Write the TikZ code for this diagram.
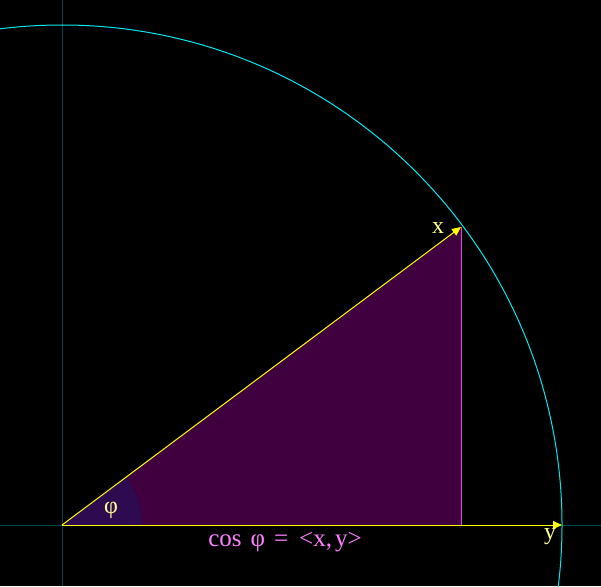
\documentclass[tikz,border=0pt]{standalone}
\usepackage{fontspec}
\setmainfont{Liberation Serif}
\usetikzlibrary{arrows.meta}
\definecolor{axiscol}{HTML}{004848}
\definecolor{circcol}{HTML}{00E8F0}
\definecolor{trifill}{HTML}{400040}
\definecolor{wedgefill}{HTML}{2E0A50}
\definecolor{vertcol}{HTML}{E040E0}
\definecolor{arrcol}{HTML}{FFFF00}
\definecolor{labcol}{HTML}{FFFF90}
\definecolor{pinkcol}{HTML}{FF80FF}
\tikzset{
  axisline/.style={draw=axiscol, line width=1pt},
  vecarrow/.style={draw=arrcol, line width=1pt, -{Triangle[length=9pt,width=8pt]}},
  lab/.style={text=labcol, font=\fontsize{24}{24}\selectfont, inner sep=0pt},
  pinklab/.style={text=pinkcol, font=\fontsize{25}{25}\selectfont, inner sep=0pt},
}
\begin{document}
\begin{tikzpicture}[x=1pt,y=-1pt]
\useasboundingbox (0,0) rectangle (601,586);
\fill[black] (0,0) rectangle (601,586);
\coordinate (O) at (62,525);
\coordinate (P) at (461,227);
\coordinate (F) at (461,525);
\coordinate (Y) at (562,525);
\coordinate (axL) at (0,525);
\coordinate (axR) at (601,525);
\coordinate (axT) at (62,0);
\coordinate (axB) at (62,586);
% axes
\draw[axisline] (axL) -- (axR);
\draw[axisline] (axT) -- (axB);
% triangle
\fill[trifill] (O) -- (P) -- (F) -- cycle;
% angle wedge
\fill[wedgefill] (O) -- ++(80,0) arc[start angle=0, end angle=-36.75, radius=80] -- cycle;
% vertical side
\draw[vertcol, line width=1pt] (P) -- (F);
% circle
\draw[circcol, line width=1pt] (O) circle[radius=500];
% vectors
\draw[vecarrow] (O) -- (P);
\draw[vecarrow] (O) -- (Y);
% labels
\node[lab] (lx) at (438,228) {x};
\node[lab] (ly) at (550,537) {y};
\node[lab] (lphi) at (111,510) {φ};
\node[pinklab] (lcos) at (285,542) {cos\hspace{9pt}φ\hspace{9pt}=\hspace{11pt}<x,\hspace{3pt}y>};
\end{tikzpicture}
\end{document}
